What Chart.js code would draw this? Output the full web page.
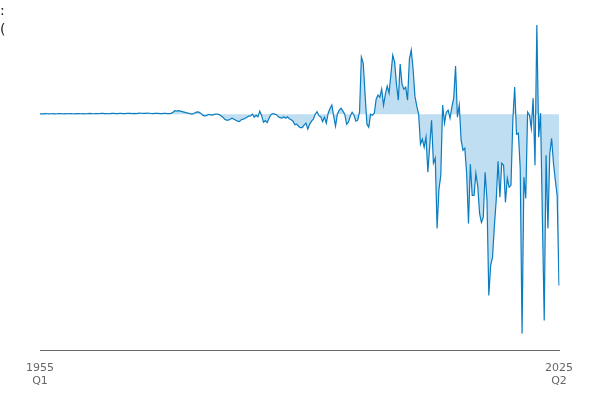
<!DOCTYPE html>
<html>
<head>
<meta charset="utf-8">
<script src="https://cdn.jsdelivr.net/npm/chart.js@4"></script>
<style>
html,body{margin:0;padding:0;background:#fff;}
#wrap{position:relative;width:600px;height:400px;}
.note{position:absolute;left:0;font-family:"DejaVu Sans",sans-serif;font-size:14px;color:#222;line-height:16px;}
</style>
</head>
<body>
<div id="wrap">
<canvas id="c"></canvas>
<div class="note" style="top:2px;">:</div>
<div class="note" style="top:21px;">(</div>
</div>
<script>
const firstYear = 1955;
const lastYear = 2025;
const lastQuarter = 2;
const quarterNames = ['Q1','Q2','Q3','Q4'];

const valuesEarly = [
 0.3,0.4,0.3,0.5,0.4,0.3,0.4,0.5,0.3,0.4,
 0.5,0.6,0.4,0.3,0.5,0.4,0.6,0.5,0.4,0.3,
 0.5,0.6,0.4,0.5,0.3,0.4,0.6,0.7,0.5,0.4,
 0.6,0.5,0.4,0.7,0.8,0.6,0.5,0.4,0.6,0.8,
 0.7,0.5,0.6,0.8,0.7,0.6,0.5,0.7,0.9,0.8,
 0.6,0.7,0.5,0.8,1.0,0.9,0.7,0.8,1.0,0.9,
 0.7,0.6,0.8,0.9,0.7,0.5,0.6,0.8,0.7,0.6,
 0.5
];
const valuesMid = [
 0.8,2,3.5,3,3.5,3,2.5,2,1.5,1,
 0.5,0,0.5,1.5,2.3,2,1,-1,-1.7,-1.5,
 -0.5,-0.5,-1,-0.5,0,0,-0.5,-1.5,-3,-5,
 -6,-6,-5,-4,-5,-6,-7,-7.5,-5.5,-5,
 -4.3,-3,-2,-1.7,0,-3,-1,-2.5,3,-1.5,
 -8,-6.5,-8.5,-4,-0.5,0.5,0,-0.5,-2.5,-3.5,
 -4,-2.5,-4,-2.7,-4.5,-5.5,-7,-10.5,-10,-12,
 -13.5,-13.5,-11,-9,-15,-10,-7,-5,0,2.5,
 -1.5,-2.7,-7.5,-3,-9,0.7,5.7,9,-2,-12,
 0,4,6,3,0,-10,-8,-2,2,-1
];
const valuesLate = [
 -7,-6,2,57,51,20,-10,-13,0,-1,
 1,15,19,17,25,9,20,28,21,40,
 59,52,30,14,50,30,25,27,14,55,
 64,45,18,8,0,-30,-25,-33,-23,-58,
 -32,-6,-49,-44,-114,-75,-61,9,-9,2,
 4,-4,7,16,48,-3,9,-26,-36,-34,
 -59,-109,-50,-81,-81,-59,-72,-99,-108,-103,
 -58,-86,-181,-151,-143,-112,-86,-47,-83,-49,
 -51,-88,-64,-73,-71,-6,27,-20,-19,-54,
 -219,-63,-84,2,-1,-14,16,-51,89,-23,
 1,-103,-206,-41,-114,-40,-24,-49,-66,-81,-171
];
const values = valuesEarly.concat(valuesMid, valuesLate);

const labels = [];
for (let y = firstYear; y <= lastYear; y++) {
  for (let q = 0; q < 4; q++) {
    if (y === lastYear && q >= lastQuarter) break;
    labels.push([String(y), quarterNames[q]]);
  }
}

new Chart(document.getElementById('c'), {
  type: 'line',
  data: {
    labels: labels,
    datasets: [{
      data: values,
      borderColor: '#0a7cc1',
      backgroundColor: 'rgba(130,190,228,0.5)',
      borderWidth: 1.2,
      pointRadius: 0,
      tension: 0,
      fill: 'origin'
    }]
  },
  options: {
    responsive: true,
    maintainAspectRatio: false,
    animation: false,
    layout: { padding: { left: 40, right: 41, top: 20, bottom: 9 } },
    plugins: { legend: { display: false }, tooltip: { enabled: false } },
    scales: {
      x: {
        offset: false,
        grid: { display: false },
        border: { display: true, color: '#666', width: 1 },
        ticks: {
          autoSkip: false,
          maxRotation: 0,
          color: '#666',
          font: { family: 'DejaVu Sans', size: 11 },
          callback: function(v, i) {
            return (i === 0 || i === labels.length - 1) ? labels[i] : '';
          }
        }
      },
      y: {
        display: false,
        min: -236,
        max: 94
      }
    }
  }
});
</script>
</body>
</html>
